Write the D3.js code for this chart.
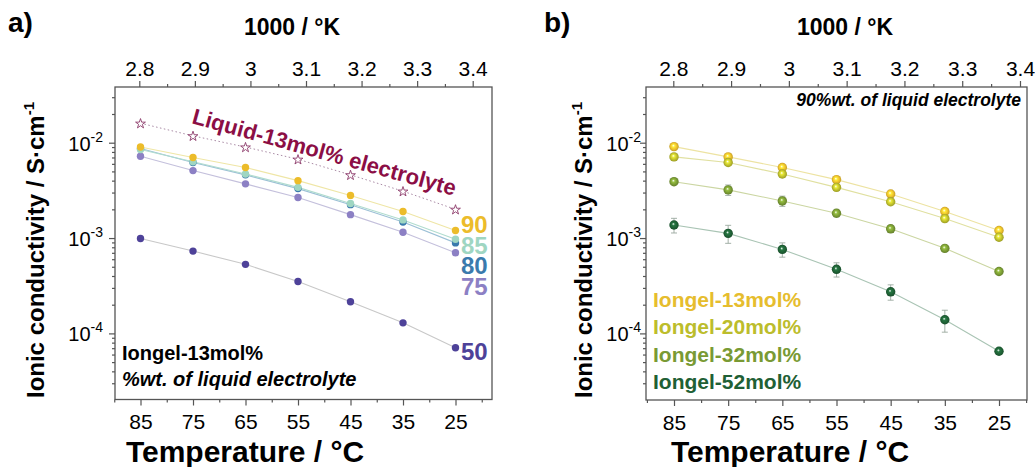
<!DOCTYPE html>
<html><head><meta charset="utf-8">
<script src="https://cdn.jsdelivr.net/npm/d3@7"></script>
<style>
body{margin:0;background:#fff;}
svg{display:block;font-family:"Liberation Sans",Arial,sans-serif;}
</style></head>
<body><svg id="c" width="1035" height="467"></svg>
<script>
// ---------- data ----------
const tempC = [85, 75, 65, 55, 45, 35, 25];
const tempTicks = [85, 75, 65, 55, 45, 35, 25];
const tempMinor = [90, 80, 70, 60, 50, 40, 30, 20];
const invKTicks = [2.8, 2.9, 3.0, 3.1, 3.2, 3.3, 3.4];
const invKMinor = [2.85, 2.95, 3.05, 3.15, 3.25, 3.35];
const yMajor = [1e-4, 1e-3, 1e-2];

// panel a : Iongel-13mol%, wt.% of liquid electrolyte
const liquid13 = [0.0160, 0.0118, 0.0090, 0.0067, 0.0046, 0.0031, 0.0020];
const wt90 = [0.0090, 0.0070, 0.0055, 0.0040, 0.0028, 0.0019, 0.0012];
const wt85 = [0.0085, 0.0063, 0.0047, 0.0034, 0.0023, 0.00155, 0.00097];
const wt80 = [0.0087, 0.0062, 0.0046, 0.0033, 0.00224, 0.00147, 0.00089];
const wt75 = [0.0072, 0.0051, 0.0037, 0.00266, 0.00176, 0.00115, 0.00070];
const wt50 = [0.00099, 0.00073, 0.00053, 0.00035, 0.000215, 0.000129, 0.0000708];
const wtLabels = ["90", "85", "80", "75", "50"];

// panel b : 90 wt.% liquid electrolyte, different iongels
const mol13 = [0.0091, 0.0071, 0.0055, 0.0041, 0.0029, 0.0019, 0.0012];
const mol20 = [0.0071, 0.0062, 0.0047, 0.0034, 0.0024, 0.0016, 0.00102];
const mol32 = [0.0039, 0.0032, 0.00245, 0.00182, 0.00125, 0.00078, 0.000446];
const mol52 = [0.00137, 0.00112, 0.00076, 0.00047, 0.000273, 0.000139, 0.000065];
const err13 = [0.0002, 0.0002, 0.0001, 0.0001, 0.0001, 0.00005, 0.00003];
const err20 = [0.0002, 0.0002, 0.0001, 0.0001, 0.0001, 0.00005, 0.00003];
const err32 = [0.0002, 0.0004, 0.0003, 0.00015, 0.0001, 0.00005, 0.00002];
const err52 = [0.00024, 0.00024, 0.00013, 0.00008, 0.00005, 0.000036, 0.000004];
const molLabels = ["Iongel-13mol%", "Iongel-20mol%", "Iongel-32mol%", "Iongel-52mol%"];

// ---------- drawing ----------
const svg = d3.select("#c");
const FONT = "'Liberation Sans', Arial, sans-serif";
const AX = "#555";

function panel(o) {
  const g = svg.append("g");
  const xT = d3.scaleLinear().domain([2.8, 3.4]).range(o.topR);
  const xB = d3.scaleLinear().domain([85, 25]).range(o.botR);
  const y = d3.scaleLog().domain([1e-4, 1e-2]).range([333.4, 142.7]);
  const L = o.frame[0], R = o.frame[1], T = 87, B = o.bottom;

  g.append("rect").attr("x", L).attr("y", T).attr("width", R - L).attr("height", B - T)
    .attr("fill", "none").attr("stroke", AX).attr("stroke-width", 1.3);

  function styleAxis(sel) {
    sel.select(".domain").remove();
    sel.selectAll("line").attr("stroke", AX).attr("stroke-width", 1.2);
    sel.selectAll("text").attr("fill", "#000").style("font-family", FONT).style("font-size", "21px");
  }
  g.append("g").attr("transform", `translate(0,${T})`)
    .call(d3.axisTop(xT).tickValues(invKTicks).tickSize(6).tickPadding(5).tickFormat(d => String(+d.toFixed(1))))
    .call(styleAxis);
  g.append("g").attr("transform", `translate(0,${T})`)
    .call(d3.axisTop(xT).tickValues(invKMinor).tickSize(3).tickFormat(""))
    .call(styleAxis);
  g.append("g").attr("transform", `translate(0,${B})`)
    .call(d3.axisBottom(xB).tickValues(tempTicks).tickSize(6).tickPadding(9).tickFormat(d => d))
    .call(styleAxis);
  g.append("g").attr("transform", `translate(0,${B})`)
    .call(d3.axisBottom(xB).tickValues(tempMinor.filter(v => xB(v) >= L - 1 && xB(v) <= R + 1)).tickSize(3).tickFormat(""))
    .call(styleAxis);
  const yMinor = [];
  [1e-5, 1e-4, 1e-3, 1e-2].forEach(dec => { for (let k = 2; k <= 9; k++) { const v = dec * k; if (y(v) >= T && y(v) <= B) yMinor.push(v); } });
  g.append("g").attr("transform", `translate(${L},0)`)
    .call(d3.axisLeft(y).tickValues(yMajor).tickSize(6).tickFormat(""))
    .call(styleAxis);
  g.append("g").attr("transform", `translate(${L},0)`)
    .call(d3.axisLeft(y).tickValues(yMinor).tickSize(3).tickFormat(""))
    .call(styleAxis);
  const yl = g.append("g").selectAll("text").data(yMajor).join("text")
    .attr("x", o.ylabX).attr("y", d => y(d) + 8).attr("text-anchor", "end")
    .style("font-size", "20px").style("font-family", FONT);
  yl.append("tspan").text("10");
  yl.append("tspan").attr("dy", -9).style("font-size", "14px").text(d => String(Math.round(Math.log10(d))));

  g.append("text").attr("x", o.topTitleX).attr("y", 35).attr("text-anchor", "middle")
    .style("font-weight", "bold").style("font-size", "23px").style("font-family", FONT).text("1000 / °K");
  g.append("text").attr("x", o.botTitleX).attr("y", 462).attr("text-anchor", "middle")
    .style("font-weight", "bold").style("font-size", "30px").style("font-family", FONT).text("Temperature / °C");
  const yt = g.append("text").attr("transform", `translate(${o.yTitleX},250) rotate(-90)`).attr("text-anchor", "middle")
    .style("font-weight", "bold").style("font-size", "24px").style("font-family", FONT);
  yt.append("tspan").text("Ionic conductivity / S·cm");
  yt.append("tspan").attr("dy", -10).style("font-size", "15px").text("-1");
  g.append("text").attr("x", o.letterX).attr("y", 32)
    .style("font-weight", "bold").style("font-size", "28px").style("font-family", FONT).text(o.letter);

  return { g, xB, y };
}

// ---------- Panel a ----------
const A = panel({ frame: [115, 492], bottom: 399.5, topR: [139.3, 472.7], botR: [140.5, 455.5],
  ylabX: 103, topTitleX: 292, botTitleX: 245, yTitleX: 44, letter: "a)", letterX: 8 });

const seriesA = [
  { v: wt75, line: "#c4c0dc", fill: "#8c80c4" },
  { v: wt80, line: "#9cc0d6", fill: "#3a7aad" },
  { v: wt85, line: "#b0dccf", fill: "#9fd6c2" },
  { v: wt90, line: "#efe6a6", fill: "#ecbc2a" },
  { v: wt50, line: "#c8c8c8", fill: "#4e4299" }
];
const lineA = (vals) => d3.line().x((d, i) => A.xB(tempC[i])).y(d => A.y(d))(vals);
A.g.append("path").attr("d", lineA(liquid13)).attr("fill", "none")
  .attr("stroke", "#a98aa5").attr("stroke-width", 1).attr("stroke-dasharray", "1.5,2.5");
A.g.selectAll(".star").data(liquid13).join("path")
  .attr("transform", (d, i) => `translate(${A.xB(tempC[i])},${A.y(d) + 0.5})`)
  .attr("d", d3.symbol().type(d3.symbolStar).size(30)())
  .attr("fill", "#fff").attr("stroke", "#8c3a6a").attr("stroke-width", 0.9);
seriesA.forEach(s => {
  A.g.append("path").attr("d", lineA(s.v)).attr("fill", "none").attr("stroke", s.line).attr("stroke-width", 1.1);
});
seriesA.forEach(s => {
  A.g.selectAll(null).data(s.v).join("circle")
    .attr("cx", (d, i) => A.xB(tempC[i])).attr("cy", d => A.y(d)).attr("r", 3.7).attr("fill", s.fill);
});
const labA = [
  { t: wtLabels[0], y: 233, c: "#ecbc2a" },
  { t: wtLabels[1], y: 254, c: "#9fd6c2" },
  { t: wtLabels[2], y: 274, c: "#3a7aad" },
  { t: wtLabels[3], y: 294.5, c: "#8c80c4" },
  { t: wtLabels[4], y: 360, c: "#4e4299" }
];
A.g.selectAll(".lab").data(labA).join("text").attr("x", 461).attr("y", d => d.y)
  .style("font-weight", "bold").style("font-size", "24px").style("font-family", FONT)
  .attr("fill", d => d.c).text(d => d.t);
A.g.append("text").attr("transform", "translate(191,123) rotate(15.5)")
  .style("font-weight", "bold").style("font-size", "22px").style("font-family", FONT)
  .attr("fill", "#8b0e45").text("Liquid-13mol% electrolyte");
A.g.append("text").attr("x", 122).attr("y", 360)
  .style("font-weight", "bold").style("font-size", "20px").style("font-family", FONT).text("Iongel-13mol%");
A.g.append("text").attr("x", 122).attr("y", 386)
  .style("font-weight", "bold").style("font-style", "italic").style("font-size", "20px").style("font-family", FONT)
  .text("%wt. of liquid electrolyte");

// ---------- Panel b ----------
const Bp = panel({ frame: [646, 1027], bottom: 400, topR: [673.3, 1020], botR: [674, 999],
  ylabX: 641, topTitleX: 845, botTitleX: 790, yTitleX: 592, letter: "b)", letterX: 544 });

const seriesB = [
  { v: mol52, e: err52, line: "#a9c4b4", fill: "#1f6035", name: molLabels[3] },
  { v: mol32, e: err32, line: "#cbd6a2", fill: "#799a34", name: molLabels[2] },
  { v: mol20, e: err20, line: "#e0e0a0", fill: "#bcbd2c", name: molLabels[1] },
  { v: mol13, e: err13, line: "#ede3a2", fill: "#eabd2c", name: molLabels[0] }
];
const defs = svg.append("defs");
seriesB.forEach((s, k) => {
  const gr = defs.append("radialGradient").attr("id", "sph" + k).attr("cx", "50%").attr("cy", "50%").attr("r", "55%")
    .attr("fx", "42%").attr("fy", "38%");
  gr.append("stop").attr("offset", "0%").attr("stop-color", "#ffffff");
  gr.append("stop").attr("offset", "28%").attr("stop-color", d3.color(s.fill).brighter(0.6));
  gr.append("stop").attr("offset", "65%").attr("stop-color", s.fill);
  gr.append("stop").attr("offset", "100%").attr("stop-color", d3.color(s.fill).darker(0.7));
});
const lineB = (vals) => d3.line().x((d, i) => Bp.xB(tempC[i])).y(d => Bp.y(d))(vals);
seriesB.forEach(s => {
  Bp.g.append("path").attr("d", lineB(s.v)).attr("fill", "none").attr("stroke", s.line).attr("stroke-width", 1.1);
});
seriesB.forEach((s, k) => {
  const eg = Bp.g.append("g").attr("stroke", "#9aa89e").attr("stroke-width", 0.9);
  s.v.forEach((d, i) => {
    const x = Bp.xB(tempC[i]), y1 = Bp.y(d + s.e[i]), y2 = Bp.y(Math.max(d - s.e[i], d * 0.3));
    eg.append("line").attr("x1", x).attr("x2", x).attr("y1", y1).attr("y2", y2);
    eg.append("line").attr("x1", x - 3).attr("x2", x + 3).attr("y1", y1).attr("y2", y1);
    eg.append("line").attr("x1", x - 3).attr("x2", x + 3).attr("y1", y2).attr("y2", y2);
  });
});
seriesB.slice().reverse().forEach(s => {
  const k = seriesB.indexOf(s);
  Bp.g.selectAll(null).data(s.v).join("circle")
    .attr("cx", (d, i) => Bp.xB(tempC[i])).attr("cy", d => Bp.y(d)).attr("r", 4.7).attr("fill", `url(#sph${k})`);
});
const legB = [
  { t: molLabels[0], c: "#e6bd2e", y: 306.5 },
  { t: molLabels[1], c: "#bcbd2c", y: 334 },
  { t: molLabels[2], c: "#799a34", y: 361.5 },
  { t: molLabels[3], c: "#1f6035", y: 388.5 }
];
Bp.g.selectAll(".leg").data(legB).join("text").attr("x", 653).attr("y", d => d.y)
  .style("font-weight", "bold").style("font-size", "21px").style("font-family", FONT)
  .attr("fill", d => d.c).text(d => d.t);
Bp.g.append("text").attr("x", 1021).attr("y", 106).attr("text-anchor", "end")
  .style("font-weight", "bold").style("font-style", "italic").style("font-size", "17.5px").style("font-family", FONT)
  .text("90%wt. of liquid electrolyte");
</script>
</body></html>
